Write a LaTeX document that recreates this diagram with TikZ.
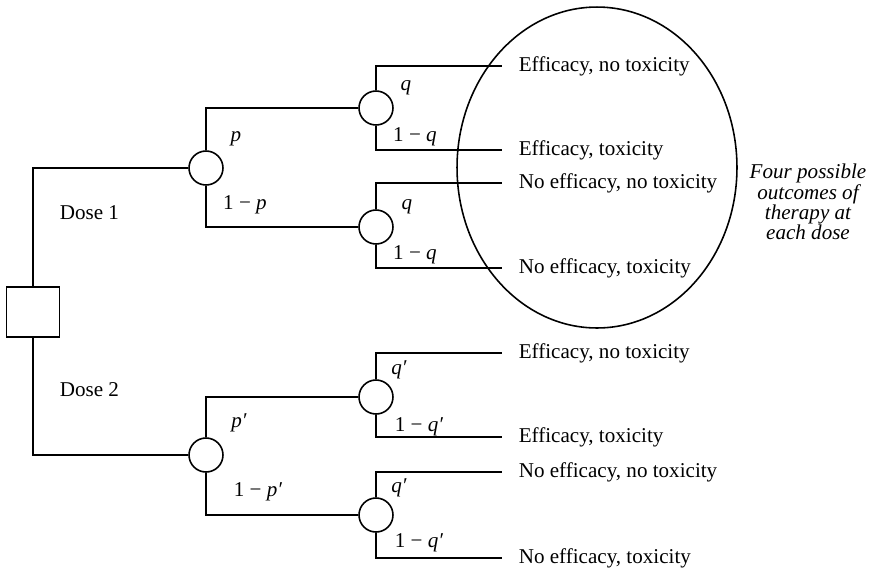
\documentclass[tikz,border=0pt]{standalone}
\usepackage{fontspec}
\setmainfont{Liberation Serif}
\usetikzlibrary{shapes.geometric}
\begin{document}
\begin{tikzpicture}[x=0.02cm, y=-0.02cm, line width=0.9pt,
    chance/.style={draw, circle, minimum size=0.68cm, inner sep=0pt},
    outcome/.style={anchor=west, inner xsep=0.32cm, inner ysep=0pt, font=\fontsize{12}{14}\selectfont},
    lbl/.style={inner sep=0pt, font=\fontsize{12}{14}\selectfont}]
    \useasboundingbox (0,0) rectangle (875,569);

    % 决策节点
    \node[draw, minimum width=1.06cm, minimum height=1cm, inner sep=0pt] (d) at (33,312) {};

    % 机会节点
    \node[chance] (c1) at (206,168) {};
    \node[chance] (c2) at (206,455) {};
    \node[chance] (c11) at (376,108) {};
    \node[chance] (c12) at (376,227) {};
    \node[chance] (c21) at (376,397) {};
    \node[chance] (c22) at (376,515) {};

    % 结局
    \node[outcome] (o1) at (502,66) {Efficacy, no toxicity};
    \node[outcome] (o2) at (502,150) {Efficacy, toxicity};
    \node[outcome] (o3) at (502,183) {No efficacy, no toxicity};
    \node[outcome] (o4) at (502,268) {No efficacy, toxicity};
    \node[outcome] (o5) at (502,353) {Efficacy, no toxicity};
    \node[outcome] (o6) at (502,437) {Efficacy, toxicity};
    \node[outcome] (o7) at (502,472) {No efficacy, no toxicity};
    \node[outcome] (o8) at (502,558) {No efficacy, toxicity};

    % 分支
    \draw (d.north) |- (c1.west);
    \draw (d.south) |- (c2.west);
    \draw (c1.north) |- (c11.west);
    \draw (c1.south) |- (c12.west);
    \draw (c2.north) |- (c21.west);
    \draw (c2.south) |- (c22.west);
    \draw (c11.north) |- (o1.west);
    \draw (c11.south) |- (o2.west);
    \draw (c12.north) |- (o3.west);
    \draw (c12.south) |- (o4.west);
    \draw (c21.north) |- (o5.west);
    \draw (c21.south) |- (o6.west);
    \draw (c22.north) |- (o7.west);
    \draw (c22.south) |- (o8.west);

    % 概率
    \node[lbl] (lp) at (236,139) {\textit{p}};
    \node[lbl] (lnp) at (245,205) {1 − \textit{p}};
    \node[lbl] (lq1) at (406,88) {\textit{q}};
    \node[lbl] (lnq1) at (415,137) {1 − \textit{q}};
    \node[lbl] (lq2) at (407,207) {\textit{q}};
    \node[lbl] (lnq2) at (415,255) {1 − \textit{q}};
    \node[lbl] (lpp) at (239,423) {\textit{p′}};
    \node[lbl] (lnpp) at (258,492) {1 − \textit{p′}};
    \node[lbl] (lqp1) at (399,370) {\textit{q′}};
    \node[lbl] (lnqp1) at (419,427) {1 − \textit{q′}};
    \node[lbl] (lqp2) at (399,488) {\textit{q′}};
    \node[lbl] (lnqp2) at (419,543) {1 − \textit{q′}};

    \node[lbl, anchor=west] (dose1) at (59,213) {Dose 1};
    \node[lbl, anchor=west] (dose2) at (59,390) {Dose 2};

    % 第一剂量的四种结局
    \node[draw, ellipse, minimum width=5.6cm, minimum height=6.42cm, inner sep=0pt] (grp) at (597,167.5) {};
    \node[align=center, font=\fontsize{12}{11.6}\selectfont\itshape] (cap) at (808,202) {Four possible\\outcomes of\\therapy at\\each dose};
\end{tikzpicture}
\end{document}
